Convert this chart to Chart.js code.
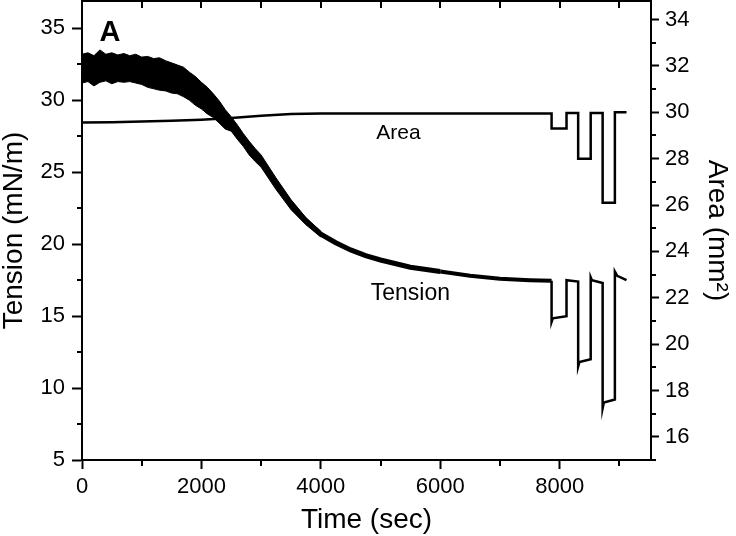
<!DOCTYPE html>
<html>
<head>
<meta charset="utf-8">
<script src="https://cdn.jsdelivr.net/npm/chart.js@4/dist/chart.umd.min.js"></script>
<style>
  html, body { margin: 0; padding: 0; background: #fff; }
  canvas { display: block; }
</style>
</head>
<body>
<canvas id="tensionChart" width="736" height="536"></canvas>
<script>
// surface tension trace (mN/m) vs time (sec)
const tensionTime = [0, 250, 500, 750, 1000, 1250, 1500, 1750, 2000, 2250, 2500, 2750, 3000, 3250,
  3500, 3750, 4000, 4250, 4500, 4750, 5000, 5500, 6000, 6500, 7000, 7500, 7865,
  7865, 7885, 8115, 8115, 8310, 8310, 8330, 8520, 8520, 8540, 8720, 8720, 8740, 8925, 8925, 8965, 9120];
const tensionValue = [32.3, 32.4, 32.3, 32.2, 32.1, 31.9, 31.6, 31.1, 30.35, 29.5, 28.35, 26.95, 25.75, 24.2,
  22.75, 21.6, 20.7, 20.1, 19.6, 19.2, 18.9, 18.4, 18.1, 17.8, 17.6, 17.5, 17.45,
  14.6, 14.85, 15.0, 17.5, 17.4, 11.5, 11.8, 12.0, 17.7, 17.5, 17.3, 8.6, 9.0, 9.2, 18.1, 17.8, 17.5];

// noisy envelope of the early tension signal
const bandTime = [0, 100, 200, 300, 400, 500, 600, 700, 800, 900, 1000, 1100, 1200, 1300, 1400, 1500,
  1600, 1700, 1800, 1900, 2000, 2100, 2200, 2300, 2400, 2500, 2600, 2700, 2800, 2900, 3000,
  3250, 3500, 3750, 4000];
const bandUpper = [33.2, 33.3, 33.1, 33.5, 33.2, 33.3, 33.15, 33.25, 33.1, 33.2, 33.0, 33.05, 32.9, 32.95, 32.75, 32.6,
  32.45, 32.3, 31.95, 31.65, 31.25, 30.9, 30.45, 29.95, 29.35, 28.85, 28.3, 27.7, 27.15, 26.65, 26.2,
  24.6, 23.1, 21.85, 20.9];
const bandLower = [31.2, 31.3, 31.0, 31.25, 31.35, 31.15, 31.3, 31.25, 31.3, 31.2, 31.1, 30.9, 30.8, 30.7, 30.65, 30.5,
  30.45, 30.25, 30.0, 29.65, 29.4, 29.05, 28.8, 28.4, 28.0, 27.85, 27.3, 26.8, 26.2, 25.75, 25.35,
  23.8, 22.4, 21.35, 20.5];

// bubble area (mm2) vs time (sec)
const areaTime = [0, 500, 1000, 1500, 2000, 2500, 3000, 3500, 4000, 5000, 6000, 7000, 7865,
  7865, 8115, 8115, 8310, 8310, 8520, 8520, 8720, 8720, 8925, 8925, 9120];
const areaValue = [29.56, 29.57, 29.6, 29.63, 29.68, 29.75, 29.85, 29.93, 29.95, 29.95, 29.95, 29.95, 29.95,
  29.3, 29.3, 29.97, 29.97, 28.0, 28.0, 29.97, 29.97, 26.1, 26.1, 30.0, 30.0];

// axis ranges, labelled ticks and minor tick steps
const timeRange = [0, 9530];
const tensionRange = [5, 36.9];
const areaRange = [15, 34.8];
const timeTickLabels = [0, 2000, 4000, 6000, 8000];
const tensionTickLabels = [5, 10, 15, 20, 25, 30, 35];
const areaTickLabels = [16, 18, 20, 22, 24, 26, 28, 30, 32, 34];
const timeMinorStep = 1000;
const tensionMinorStep = 2.5;
const areaMinorStep = 1;

const FONT = '"Liberation Sans", Arial, sans-serif';
Chart.defaults.font.family = FONT;
Chart.defaults.color = '#000';

const toPoints = (xs, ys) => xs.map((x, i) => ({ x: x, y: ys[i] }));
const minorValues = (range, step, labelled) => {
  const out = [];
  for (let v = range[0]; v <= range[1] + 1e-9; v += step) {
    if (!labelled.some(m => Math.abs(m - v) < 1e-6)) out.push(v);
  }
  return out;
};
const fixedTicks = values => s => { s.ticks = values.map(v => ({ value: v })); };
const noPadding = s => { s.paddingTop = 0; s.paddingBottom = 0; s.paddingLeft = 0; s.paddingRight = 0; };
const plainLabel = v => String(v);

// minor ticks, closed frame and text labels
const decorations = {
  id: 'decorations',
  afterDraw(chart) {
    const { ctx, chartArea: a, scales } = chart;
    ctx.save();
    ctx.strokeStyle = '#000';
    ctx.lineWidth = 2;
    ctx.beginPath();
    ctx.moveTo(a.left - 1, a.top);
    ctx.lineTo(a.right + 1, a.top);
    for (let v = timeRange[0]; v <= timeRange[1]; v += timeMinorStep) {
      const px = Math.round(scales.x.getPixelForValue(v));
      ctx.moveTo(px, a.top);
      ctx.lineTo(px, a.top + 7);
    }
    minorValues(timeRange, timeMinorStep, timeTickLabels).forEach(v => {
      const px = Math.round(scales.x.getPixelForValue(v));
      ctx.moveTo(px, a.bottom);
      ctx.lineTo(px, a.bottom + 6);
    });
    minorValues(tensionRange, tensionMinorStep, tensionTickLabels).forEach(v => {
      const py = Math.round(scales.y.getPixelForValue(v));
      ctx.moveTo(a.left - 5, py);
      ctx.lineTo(a.left, py);
    });
    minorValues(areaRange, areaMinorStep, areaTickLabels).forEach(v => {
      const py = Math.round(scales.y1.getPixelForValue(v));
      ctx.moveTo(a.right, py);
      ctx.lineTo(a.right + 5, py);
    });
    ctx.stroke();

    ctx.fillStyle = '#000';
    ctx.textAlign = 'center';
    ctx.textBaseline = 'middle';
    ctx.font = 'bold 29px ' + FONT;
    ctx.fillText('A', scales.x.getPixelForValue(470), scales.y.getPixelForValue(34.7));
    ctx.font = '21px ' + FONT;
    ctx.fillText('Area', scales.x.getPixelForValue(5300), scales.y1.getPixelForValue(29.1));
    ctx.font = '23px ' + FONT;
    ctx.fillText('Tension', scales.x.getPixelForValue(5500), scales.y.getPixelForValue(16.55));
    ctx.restore();
  }
};

new Chart(document.getElementById('tensionChart'), {
  type: 'line',
  data: {
    datasets: [
      {
        label: 'noise high',
        data: toPoints(bandTime, bandUpper),
        yAxisID: 'y',
        borderColor: '#000',
        backgroundColor: '#000',
        borderWidth: 1,
        pointRadius: 0,
        fill: '+1'
      },
      {
        label: 'noise low',
        data: toPoints(bandTime, bandLower),
        yAxisID: 'y',
        borderColor: '#000',
        borderWidth: 1,
        pointRadius: 0,
        fill: false
      },
      {
        label: 'Tension',
        data: toPoints(tensionTime, tensionValue),
        yAxisID: 'y',
        borderColor: '#000',
        borderWidth: 5,
        pointRadius: 0,
        fill: false,
        segment: {
          borderWidth: c => c.p0.parsed.x >= 7800 ? 2.5 : (c.p0.parsed.x >= 6000 ? 4 : 5)
        }
      },
      {
        label: 'Area',
        data: toPoints(areaTime, areaValue),
        yAxisID: 'y1',
        borderColor: '#000',
        borderWidth: 2.5,
        pointRadius: 0,
        fill: false
      }
    ]
  },
  options: {
    responsive: false,
    animation: false,
    layout: { padding: { top: 1, right: 0, left: 0, bottom: 0 } },
    plugins: {
      legend: { display: false },
      tooltip: { enabled: false }
    },
    scales: {
      x: {
        type: 'linear',
        min: timeRange[0],
        max: timeRange[1],
        afterBuildTicks: fixedTicks(timeTickLabels),
        ticks: { autoSkip: false, maxRotation: 0, padding: 5, font: { size: 22 }, callback: plainLabel },
        grid: { drawOnChartArea: false, tickLength: 9, tickWidth: 2, tickColor: '#000' },
        border: { color: '#000', width: 2 },
        title: { display: true, text: 'Time (sec)', font: { size: 28, lineHeight: 1 }, padding: { top: 0, bottom: 2 } },
        afterFit: s => { s.height = 76; noPadding(s); }
      },
      y: {
        position: 'left',
        min: tensionRange[0],
        max: tensionRange[1],
        afterBuildTicks: fixedTicks(tensionTickLabels),
        ticks: { autoSkip: false, padding: 7, font: { size: 22 }, callback: plainLabel },
        grid: { drawOnChartArea: false, tickLength: 10, tickWidth: 2, tickColor: '#000' },
        border: { color: '#000', width: 2 },
        title: { display: true, text: 'Tension (mN/m)', font: { size: 28, lineHeight: 1 }, padding: { top: 0, bottom: 0 } },
        afterFit: s => { s.width = 82; noPadding(s); }
      },
      y1: {
        position: 'right',
        min: areaRange[0],
        max: areaRange[1],
        afterBuildTicks: fixedTicks(areaTickLabels),
        ticks: { autoSkip: false, padding: 6, font: { size: 22 }, callback: plainLabel },
        grid: { drawOnChartArea: false, tickLength: 8, tickWidth: 2, tickColor: '#000' },
        border: { color: '#000', width: 2 },
        title: { display: true, text: 'Area (mm²)', font: { size: 28, lineHeight: 1 }, padding: { top: 5, bottom: 0 } },
        afterFit: s => { s.width = 85; noPadding(s); }
      }
    }
  },
  plugins: [decorations]
});
</script>
</body>
</html>
